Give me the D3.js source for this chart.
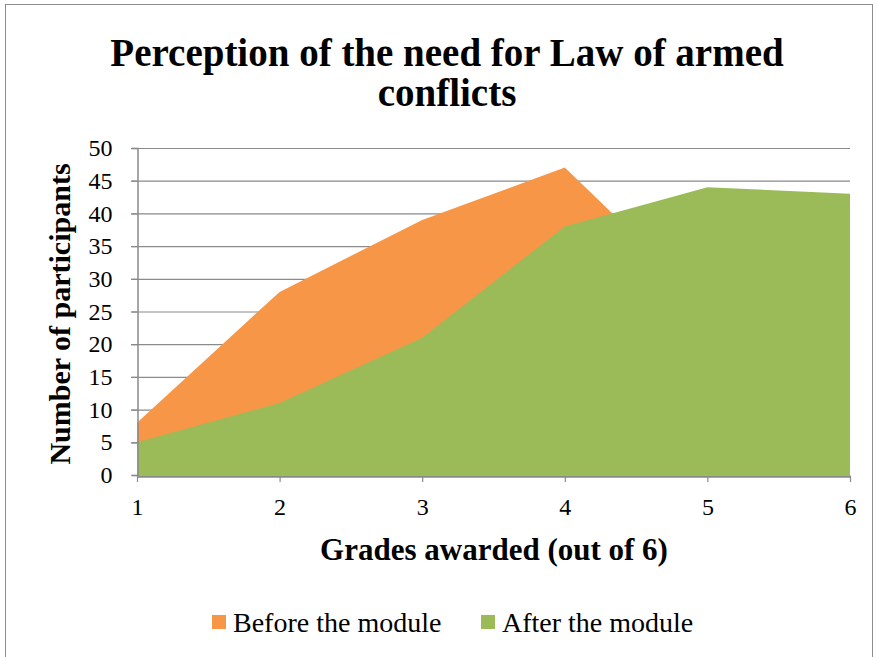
<!DOCTYPE html>
<html><head><meta charset="utf-8">
<script src="https://cdn.jsdelivr.net/npm/d3@7"></script>
<style>body{margin:0;background:#fff}</style>
</head><body>
<svg id="c" width="876" height="657"></svg>
<script>
const grades = [1, 2, 3, 4, 5, 6];
const before = [8, 28, 39, 47, 26, 14];
const after = [5, 11, 21, 38, 44, 43];
const yTicks = [0, 5, 10, 15, 20, 25, 30, 35, 40, 45, 50];
const seriesNames = ["Before the module", "After the module"];
const colors = ["#F79646", "#9BBB59"];
const title = ["Perception of the need for Law of armed", "conflicts"];

const svg = d3.select("#c");
const font = "'Liberation Serif', 'DejaVu Serif', serif";
svg.append("rect").attr("x", 5.5).attr("y", 4.5).attr("width", 867).attr("height", 660)
  .attr("fill", "#fff").attr("stroke", "#8c8c8c").attr("stroke-width", 1);

const x = d3.scaleLinear().domain([1, 6]).range([137, 850]);
const y = d3.scaleLinear().domain([0, 50]).range([475, 148]);

// gridlines
svg.append("g").selectAll("line").data(yTicks.filter(d => d > 0)).join("line")
  .attr("x1", 131).attr("x2", 850).attr("y1", d => y(d) + 0.5).attr("y2", d => y(d) + 0.5)
  .attr("stroke", "#8a8a8a").attr("stroke-width", 1.2);

const area = vals => d3.area().x((d, i) => x(grades[i])).y0(y(0)).y1(d => y(d))(vals);
svg.append("path").attr("d", area(before)).attr("fill", colors[0]);
svg.append("path").attr("d", area(after)).attr("fill", colors[1]);

// y axis
const ya = svg.append("g").attr("transform", "translate(137.5,0)")
  .call(d3.axisLeft(y).tickValues(yTicks).tickSize(6).tickPadding(19));
ya.select(".domain").attr("stroke", "#8a8a8a").attr("stroke-width", 1.5);
ya.selectAll(".tick line").attr("stroke", "#8a8a8a").attr("stroke-width", 1.2);
ya.selectAll("text").attr("font-family", font).attr("font-size", 24).attr("fill", "#000");

// x axis
const xa = svg.append("g").attr("transform", "translate(0,476)")
  .call(d3.axisBottom(x).tickValues(grades).tickFormat(d3.format("d")).tickSize(6).tickPadding(16).tickSizeOuter(0));
xa.select(".domain").attr("stroke", "#8a8a8a").attr("stroke-width", 2.5);
xa.selectAll(".tick line").attr("stroke", "#8a8a8a").attr("stroke-width", 1.2);
xa.selectAll("text").attr("font-family", font).attr("font-size", 24).attr("fill", "#000");

// titles
svg.append("g").selectAll("text").data(title).join("text")
  .attr("x", 447).attr("y", (d, i) => 66 + i * 40).attr("text-anchor", "middle")
  .attr("font-family", font).attr("font-weight", "bold").attr("font-size", 39).text(d => d);

svg.append("text").attr("x", 494).attr("y", 560).attr("text-anchor", "middle")
  .attr("font-family", font).attr("font-weight", "bold").attr("font-size", 31).text("Grades awarded (out of 6)");

svg.append("text").attr("transform", "translate(70,314) rotate(-90)").attr("text-anchor", "middle")
  .attr("font-family", font).attr("font-weight", "bold").attr("font-size", 30).text("Number of participants");

// legend
const legX = [212, 481];
const lg = svg.append("g").selectAll("g").data(seriesNames).join("g")
  .attr("transform", (d, i) => `translate(${legX[i]},615)`);
lg.append("rect").attr("width", 14).attr("height", 14).attr("fill", (d, i) => colors[i]);
lg.append("text").attr("x", 21).attr("y", 17).attr("font-family", font).attr("font-size", 28).text(d => d);
</script>
</body></html>
